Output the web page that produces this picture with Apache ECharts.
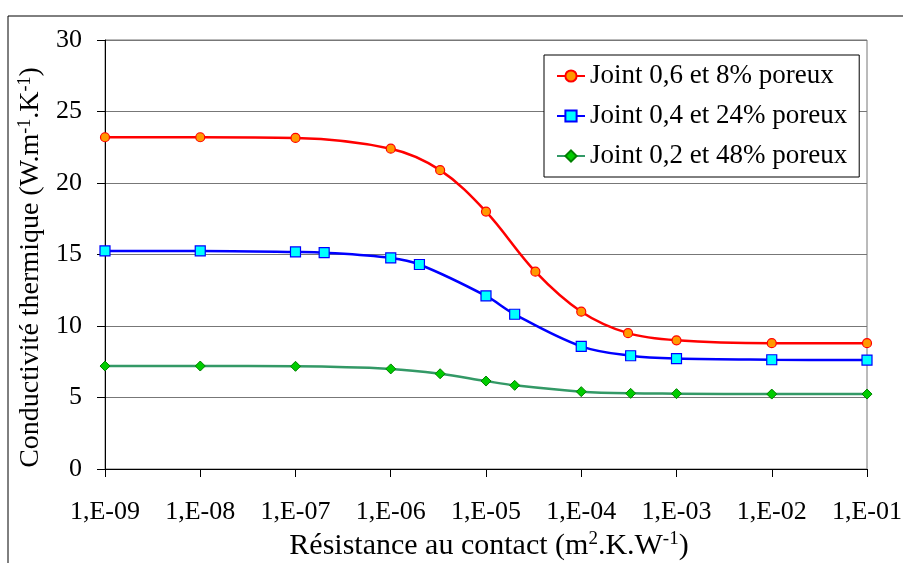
<!DOCTYPE html>
<html>
<head>
<meta charset="utf-8">
<title>Conductivité thermique</title>
<script src="https://cdn.jsdelivr.net/npm/echarts@6/dist/echarts.min.js"></script>
<style>
  html, body { margin: 0; padding: 0; background: #fff; }
  #chart { width: 903px; height: 563px; }
</style>
</head>
<body>
<div id="chart"></div>
<script>
// Contact resistance (m².K/W) and thermal conductivity (W/m.K) for each joint
const resistRed   = [1e-9, 1e-8, 1e-7, 1e-6, 3.3e-6, 1e-5, 3.3e-5, 1e-4, 3.1e-4, 1e-3, 1e-2, 1e-1];
const condRed     = [23.2, 23.2, 23.15, 22.4, 20.9, 18.0, 13.8, 11.0, 9.5, 9.0, 8.8, 8.8];

const resistBlue  = [1e-9, 1e-8, 1e-7, 2e-7, 1e-6, 2e-6, 1e-5, 2e-5, 1e-4, 3.3e-4, 1e-3, 1e-2, 1e-1];
const condBlue    = [15.25, 15.25, 15.18, 15.13, 14.76, 14.3, 12.1, 10.82, 8.58, 7.92, 7.72, 7.64, 7.62];

const resistGreen = [1e-9, 1e-8, 1e-7, 1e-6, 3.3e-6, 1e-5, 2e-5, 1e-4, 3.3e-4, 1e-3, 1e-2, 1e-1];
const condGreen   = [7.2, 7.2, 7.18, 7.0, 6.66, 6.15, 5.85, 5.41, 5.29, 5.27, 5.24, 5.24];

const seriesNames = ['Joint 0,6 et 8% poreux', 'Joint 0,4 et 24% poreux', 'Joint 0,2 et 48% poreux'];

const FONT = 'Liberation Serif';

function pairs(xs, ys) {
  return xs.map((x, i) => [x, ys[i]]);
}

// Excel-like scientific label: 1,E-09
function sciLabel(v) {
  const e = Math.round(Math.log10(v));
  const sign = e < 0 ? '-' : '+';
  return '1,E' + sign + String(Math.abs(e)).padStart(2, '0');
}

const chart = echarts.init(document.getElementById('chart'), null, { renderer: 'canvas' });

const supStyle = (size) => ({ fontSize: size, fontFamily: FONT, color: '#000', verticalAlign: 'top', lineHeight: 4 });
const baseRich = (size) => ({ fontSize: size, fontFamily: FONT, color: '#000', lineHeight: size + 2 });

chart.setOption({
  animation: false,
  backgroundColor: '#fff',
  textStyle: { fontFamily: FONT, color: '#000' },
  graphic: [{
    type: 'rect',
    shape: { x: 8, y: 16, width: 1000, height: 1000 },
    style: { fill: 'none', stroke: '#000', lineWidth: 1 },
    silent: true,
    z: -1
  }],
  grid: {
    left: 105, top: 40, right: 36, bottom: 94,
    outerBoundsMode: 'none',
    show: true, borderColor: '#777', borderWidth: 1, backgroundColor: 'transparent'
  },
  legend: {
    orient: 'vertical',
    left: 544, top: 55,
    padding: [7, 12, 7, 12],
    itemWidth: 28, itemHeight: 14, itemGap: 12,
    backgroundColor: '#fff',
    borderColor: '#000', borderWidth: 1,
    textStyle: { fontSize: 27, fontFamily: FONT, color: '#000', lineHeight: 28 },
    data: seriesNames
  },
  xAxis: {
    type: 'log', logBase: 10,
    min: 1e-9, max: 1e-1, interval: 1,
    name: '{t|Résistance au contact (m}{sup|2}{t|.K.W}{sup|-1}{t|)}',
    nameLocation: 'middle', nameGap: 61,
    nameTextStyle: {
      fontSize: 30, fontFamily: FONT, color: '#000',
      padding: [0, 0, 0, 6],
      rich: { t: baseRich(30), sup: supStyle(19) }
    },
    axisLine: { lineStyle: { color: '#000', width: 1 } },
    axisTick: { show: true, inside: false, length: 8, lineStyle: { color: '#000' } },
    minorTick: { show: false },
    splitLine: { show: false },
    axisLabel: { fontSize: 26, fontFamily: FONT, color: '#000', margin: 30, formatter: sciLabel, showMinLabel: true, showMaxLabel: true }
  },
  yAxis: {
    type: 'value',
    min: 0, max: 30, interval: 5,
    name: '{t|Conductivité thermique (W.m}{sup|-1}{t|.K}{sup|-1}{t|)}',
    nameLocation: 'middle', nameGap: 43,
    nameTextStyle: {
      fontSize: 28, fontFamily: FONT, color: '#000',
      padding: [0, 26, 0, 0],
      rich: { t: baseRich(28), sup: supStyle(18) }
    },
    axisLine: { show: true, lineStyle: { color: '#000', width: 1 } },
    axisTick: { show: true, inside: false, length: 8, lineStyle: { color: '#000' } },
    splitLine: { show: true, lineStyle: { color: '#777', width: 1 } },
    axisLabel: { fontSize: 26, fontFamily: FONT, color: '#000', margin: 23 }
  },
  series: [
    {
      name: seriesNames[0], type: 'line', smooth: 0.35,
      data: pairs(resistRed, condRed),
      symbol: 'circle', symbolSize: 9,
      lineStyle: { color: '#FF0000', width: 2.5 },
      itemStyle: { color: '#FF9900', borderColor: '#FF0000', borderWidth: 1.2 }
    },
    {
      name: seriesNames[1], type: 'line', smooth: 0.35,
      data: pairs(resistBlue, condBlue),
      symbol: 'rect', symbolSize: 10,
      lineStyle: { color: '#0000FF', width: 2.5 },
      itemStyle: { color: '#00FFFF', borderColor: '#0000FF', borderWidth: 1.2 }
    },
    {
      name: seriesNames[2], type: 'line', smooth: 0.35,
      data: pairs(resistGreen, condGreen),
      symbol: 'diamond', symbolSize: 10,
      lineStyle: { color: '#339966', width: 2.5 },
      itemStyle: { color: '#00CC00', borderColor: '#008000', borderWidth: 1 }
    }
  ]
});
</script>
</body>
</html>
